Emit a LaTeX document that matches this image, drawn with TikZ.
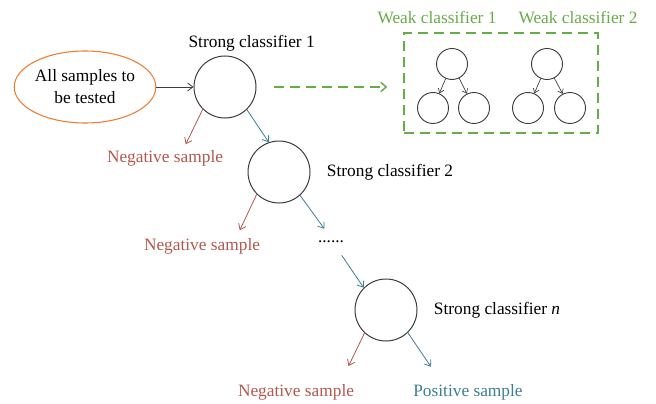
\documentclass[tikz,border=0pt]{standalone}
\usepackage{fontspec}
\setmainfont{Liberation Serif}
\usetikzlibrary{positioning,shapes.geometric,arrows.meta}

\definecolor{sampleorange}{RGB}{237,125,49}
\definecolor{negred}{RGB}{178,88,78}
\definecolor{posteal}{RGB}{62,124,148}
\definecolor{weakgreen}{RGB}{104,172,72}
\definecolor{circgray}{RGB}{60,60,60}

\tikzset{
  txt/.style={font=\fontsize{13pt}{16.5pt}\selectfont, inner sep=0pt},
  strong/.style={circle, draw=circgray, line width=0.75pt, minimum size=46.5pt, inner sep=0pt},
  weak/.style={circle, draw=circgray, line width=0.7pt, minimum size=23.25pt, inner sep=0pt},
  inputellipse/.style={ellipse, draw=sampleorange, line width=0.8pt, minimum width=103.5pt,
    minimum height=54pt, align=center, txt},
  weakbox/.style={draw=weakgreen, dash pattern=on 7.5pt off 4.5pt, line width=1.1pt,
    minimum width=145.5pt, minimum height=75pt},
  flow/.style={-{Straight Barb[length=4pt,width=6pt]}, line width=0.6pt},
  inarrow/.style={flow, draw=circgray},
  negarrow/.style={flow, draw=negred},
  posarrow/.style={flow, draw=posteal},
  weakedge/.style={-{Straight Barb[length=3pt,width=4.5pt]}, line width=0.5pt, draw=circgray},
}

\begin{document}
\begin{tikzpicture}[x=0.75pt, y=-0.75pt, on grid]
  \useasboundingbox (0,0) rectangle (656,403);

  % Nodes
  % Input samples and first strong classifier
  \node[strong] (s1) at (225,87) {};
  \node[inputellipse, left=105pt of s1] (all-samples) {All samples to\\be tested};
  \node[txt, above=33pt of s1, xshift=20pt] (s1-lbl) {Strong classifier 1};
  \node[txt, text=negred, below left=53.25pt and 45pt of s1] (s1-neg-lbl) {Negative sample};
  % Second strong classifier
  \node[strong, below right=63.75pt and 40.5pt of s1] (s2) {};
  \node[txt, right=83.25pt of s2] (s2-lbl) {Strong classifier 2};
  \node[txt, text=negred, below left=55.5pt and 57.75pt of s2] (s2-neg-lbl) {Negative sample};
  % Dots
  \node[txt, minimum height=19.5pt, below right=52.5pt and 39pt of s2] (dots) {......};
  % Last strong classifier
  \node[strong, below right=51pt and 41.25pt of dots] (sn) {};
  \node[txt, right=83.25pt of sn] (sn-lbl) {Strong classifier \textit{n}};
  \node[txt, text=negred, below left=61.5pt and 67.5pt of sn] (sn-neg-lbl) {Negative sample};
  \node[txt, text=posteal, below right=61.5pt and 61.5pt of sn] (sn-pos-lbl) {Positive sample};

  % Free ends of the output arrows
  \coordinate[below left=26.25pt and 12.75pt of s1.225] (s1-neg);
  \coordinate[below left=27pt and 12.75pt of s2.225] (s2-neg);
  \coordinate[below left=24.75pt and 12pt of sn.227] (sn-neg);
  \coordinate[below right=25.5pt and 17.25pt of sn.-46] (sn-pos);

  % Weak classifiers
  \node[weakbox] (box) at (501,83) {};
  \node[weak] (w1) at (452,64) {};
  \node[weak, below left=33pt and 14.25pt of w1] (w1-l) {};
  \node[weak, below right=33pt and 16.5pt of w1] (w1-r) {};
  \node[weak, right=71.25pt of w1] (w2) {};
  \node[weak, below left=33pt and 14.25pt of w2] (w2-l) {};
  \node[weak, below right=33pt and 17.25pt of w2] (w2-r) {};
  \node[txt, text=weakgreen] (w1-lbl) at (437,18) {Weak classifier 1};
  \node[txt, text=weakgreen] (w2-lbl) at (578,18) {Weak classifier 2};

  % Edges
  \draw[inarrow] (all-samples) -- (s1);
  \draw[posarrow] (s1.-46) -- (s2.109);
  \draw[posarrow] (s2.-48) -- ([xshift=-5pt]dots.north);
  \draw[posarrow] ([xshift=8pt]dots.south) -- (sn.135);
  \draw[negarrow] (s1.225) -- (s1-neg);
  \draw[negarrow] (s2.225) -- (s2-neg);
  \draw[negarrow] (sn.227) -- (sn-neg);
  \draw[posarrow] (sn.-46) -- (sn-pos);
  \draw[weakgreen, dash pattern=on 7.5pt off 4.5pt, line width=1.1pt,
    -{Straight Barb[length=4pt,width=7pt]}, shorten <=12.75pt, shorten >=12pt] (s1.east) -- (s1.east -| box.west);
  \draw[weakedge] (w1) -- (w1-l);
  \draw[weakedge] (w1) -- (w1-r);
  \draw[weakedge] (w2) -- (w2-l);
  \draw[weakedge] (w2) -- (w2-r);
\end{tikzpicture}
\end{document}
